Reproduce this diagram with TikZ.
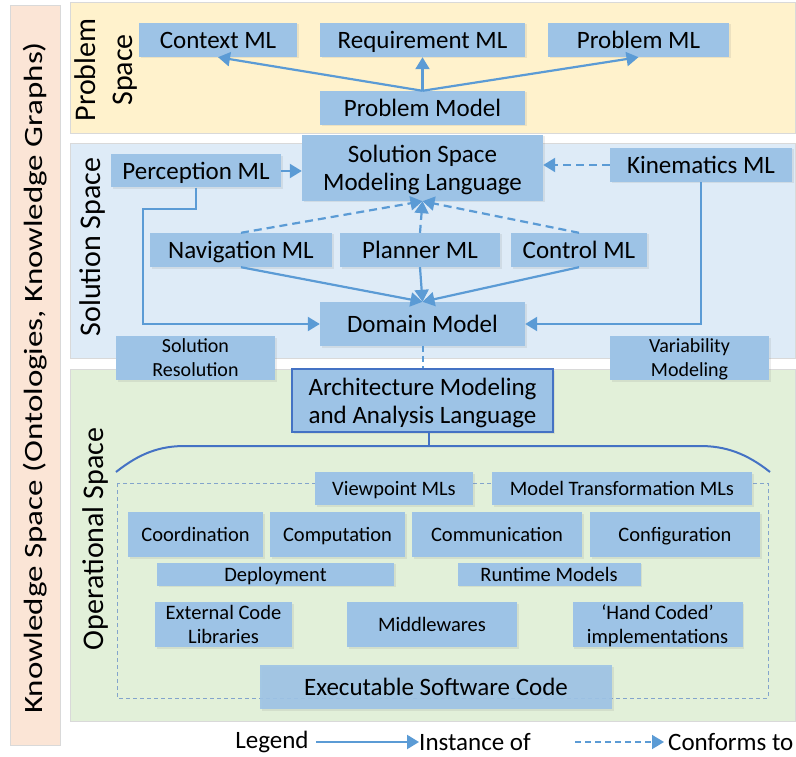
\documentclass[tikz,border=0pt]{standalone}
\usepackage{fontspec}
\setmainfont{Carlito}
\usetikzlibrary{arrows.meta, positioning, shadows}
\definecolor{boxblue}{RGB}{157, 195, 230}
\definecolor{arrowblue}{RGB}{91, 155, 213}
\definecolor{archblue}{RGB}{68, 114, 196}
\definecolor{probfill}{RGB}{255, 242, 204}
\definecolor{solfill}{RGB}{222, 235, 247}
\definecolor{opfill}{RGB}{226, 240, 217}
\definecolor{knowfill}{RGB}{251, 229, 214}
\definecolor{panelgray}{RGB}{217, 217, 217}
\newcommand{\lblbig}{\fontsize{25}{28}\selectfont}
\newcommand{\lblmid}{\fontsize{20.5}{24}\selectfont}
\newcommand{\lblsmall}{\fontsize{20}{24}\selectfont}
\newcommand{\lblspace}{\fontsize{30}{37}\selectfont}
\newcommand{\lbllegend}{\fontsize{25}{28}\selectfont}

\begin{document}
\begin{tikzpicture}[x=1pt, y=-1pt,
    mlbox/.style={fill=boxblue, inner sep=0pt, align=center, font=\lblbig, text depth=0pt,
        drop shadow={opacity=0.15, shadow xshift=1.5pt, shadow yshift=-1.5pt}},
    midbox/.style={mlbox, font=\lblmid},
    smallbox/.style={mlbox, font=\lblsmall},
    panel/.style={draw=panelgray, line width=0.6pt},
    spacelabel/.style={rotate=90, font=\lblspace, align=center, inner sep=0pt},
    instof/.style={draw=arrowblue, line width=2.2pt, -{Triangle[length=12pt, width=14pt]}},
    conform/.style={instof, dash pattern=on 8pt off 5pt}]
    \useasboundingbox (0,0) rectangle (796,757);
    \fill[white] (0,0) rectangle (796,757);

    \filldraw[panel, fill=knowfill] (10,5) rectangle (60,745);
    \filldraw[panel, fill=probfill] (70,2) rectangle (795,133);
    \filldraw[panel, fill=solfill] (70,143) rectangle (795,358);
    \filldraw[panel, fill=opfill] (70,369) rectangle (795,721);

    \node[rotate=90, inner sep=0pt] (know) at (35,378)
        {\scalebox{1}[0.8]{\fontsize{33}{35}\selectfont Knowledge Space (Ontologies, Knowledge Graphs)}};
    \node[spacelabel] (probspace) at (106,70) {Problem\\Space};
    \node[spacelabel] (solspace) at (93,247) {Solution Space};
    \node[spacelabel] (opspace) at (96,539) {Operational Space};

    \node[mlbox, minimum width=158, minimum height=34] (ctx) at (218,40) {Context ML};
    \node[mlbox, minimum width=205, minimum height=34] (req) at (422.5,40) {Requirement ML};
    \node[mlbox, minimum width=181, minimum height=34] (pml) at (638.5,40) {Problem ML};
    \node[mlbox, minimum width=205, minimum height=34] (pm) at (422.5,108) {Problem Model};

    \node[mlbox, minimum width=170, minimum height=33] (perc) at (196,171) {Perception ML};
    \node[mlbox, minimum width=241, minimum height=66] (ssml) at (422.5,168) {Solution Space\\Modeling Language};
    \node[mlbox, minimum width=182, minimum height=34] (kin) at (701,165) {Kinematics ML};
    \node[mlbox, minimum width=182, minimum height=34] (nav) at (241,250) {Navigation ML};
    \node[mlbox, minimum width=160, minimum height=34] (plan) at (420,250) {Planner ML};
    \node[mlbox, minimum width=136, minimum height=34] (ctrl) at (579,250) {Control ML};
    \node[mlbox, minimum width=205, minimum height=44] (dm) at (422.5,324) {Domain Model};
    \node[smallbox, minimum width=159, minimum height=44] (solres) at (195.5,358) {Solution\\Resolution};
    \node[smallbox, minimum width=159, minimum height=44] (varmod) at (689.5,358) {Variability\\Modeling};

    \node[mlbox, draw=archblue, line width=2.5pt, minimum width=261, minimum height=63] (arch) at (422.5,400.5)
        {Architecture Modeling\\and Analysis Language};

    \draw[archblue, line width=0.8pt, dash pattern=on 4pt off 3pt, draw opacity=0.6] (117,483) rectangle (768,698);
    \draw[archblue, line width=2pt] (116,472) .. controls (140,453) and (160,446) .. (185,446)
        -- (700,446) .. controls (725,446) and (746,453) .. (770,472);
    \draw[archblue, line width=2pt] ([xshift=6pt]arch.south) -- ++(0,14);

    \node[midbox, minimum width=158, minimum height=33] (vp) at (394,488.5) {Viewpoint MLs};
    \node[midbox, minimum width=260, minimum height=33] (mt) at (622,488.5) {Model Transformation MLs};
    \node[midbox, minimum width=135, minimum height=45] (coord) at (195.5,534.5) {Coordination};
    \node[midbox, minimum width=135, minimum height=45] (comp) at (337.5,534.5) {Computation};
    \node[midbox, minimum width=170, minimum height=45] (comm) at (497,534.5) {Communication};
    \node[midbox, minimum width=170, minimum height=45] (conf) at (675,534.5) {Configuration};
    \node[midbox, minimum width=237, minimum height=23] (depl) at (275.5,574) {Deployment};
    \node[midbox, minimum width=183, minimum height=23] (rt) at (549,574) {Runtime Models};
    \node[midbox, minimum width=137, minimum height=45] (ext) at (223.5,624.5) {External Code\\Libraries};
    \node[midbox, minimum width=170, minimum height=45] (mid) at (432,624.5) {Middlewares};
    \node[midbox, minimum width=170, minimum height=45] (hand) at (657.5,624.5) {`Hand Coded'\\implementations};
    \node[mlbox, minimum width=352, minimum height=44, fill opacity=0.9, text opacity=1] (exe) at (436,687) {Executable Software Code};

    \draw[instof] (pm.north) -- (ctx.south);
    \draw[instof] (pm.north) -- (req.south);
    \draw[instof] (pm.north) -- (pml.south);

    \draw[instof] (perc.east) -- (perc.east -| ssml.west);
    \draw[conform] (kin.west) -- (kin.west -| ssml.east);
    \draw[conform] (nav.north) -- (ssml.south);
    \draw[conform] (plan.north) -- (ssml.south);
    \draw[conform] (ctrl.north) -- (ssml.south);
    \draw[instof] (nav.south) -- (dm.north);
    \draw[instof] (plan.south) -- (dm.north);
    \draw[instof] (ctrl.south) -- (dm.north);
    \draw[instof] (perc.south) |- ++(-53,21) |- (dm.west);
    \draw[instof] (kin.south) |- (dm.east);
    \draw[arrowblue, line width=2pt, dash pattern=on 6pt off 4pt] (dm.south) -- (dm.south |- arch.north);

    \node[font=\lbllegend] (legend) at (272,742) {Legend};
    \node[font=\lbllegend, anchor=west, inner sep=0pt] (instlbl) at (419,742) {Instance of};
    \node[font=\lbllegend, anchor=west, inner sep=0pt] (conflbl) at (668,742) {Conforms to};
    \coordinate (confstart) at (575,742);
    \draw[instof] ([xshift=4pt]legend.east) -- (instlbl.west);
    \draw[conform, line width=1.6pt, dash pattern=on 6pt off 4pt] (confstart) -- ([xshift=-4pt]conflbl.west);
\end{tikzpicture}
\end{document}
